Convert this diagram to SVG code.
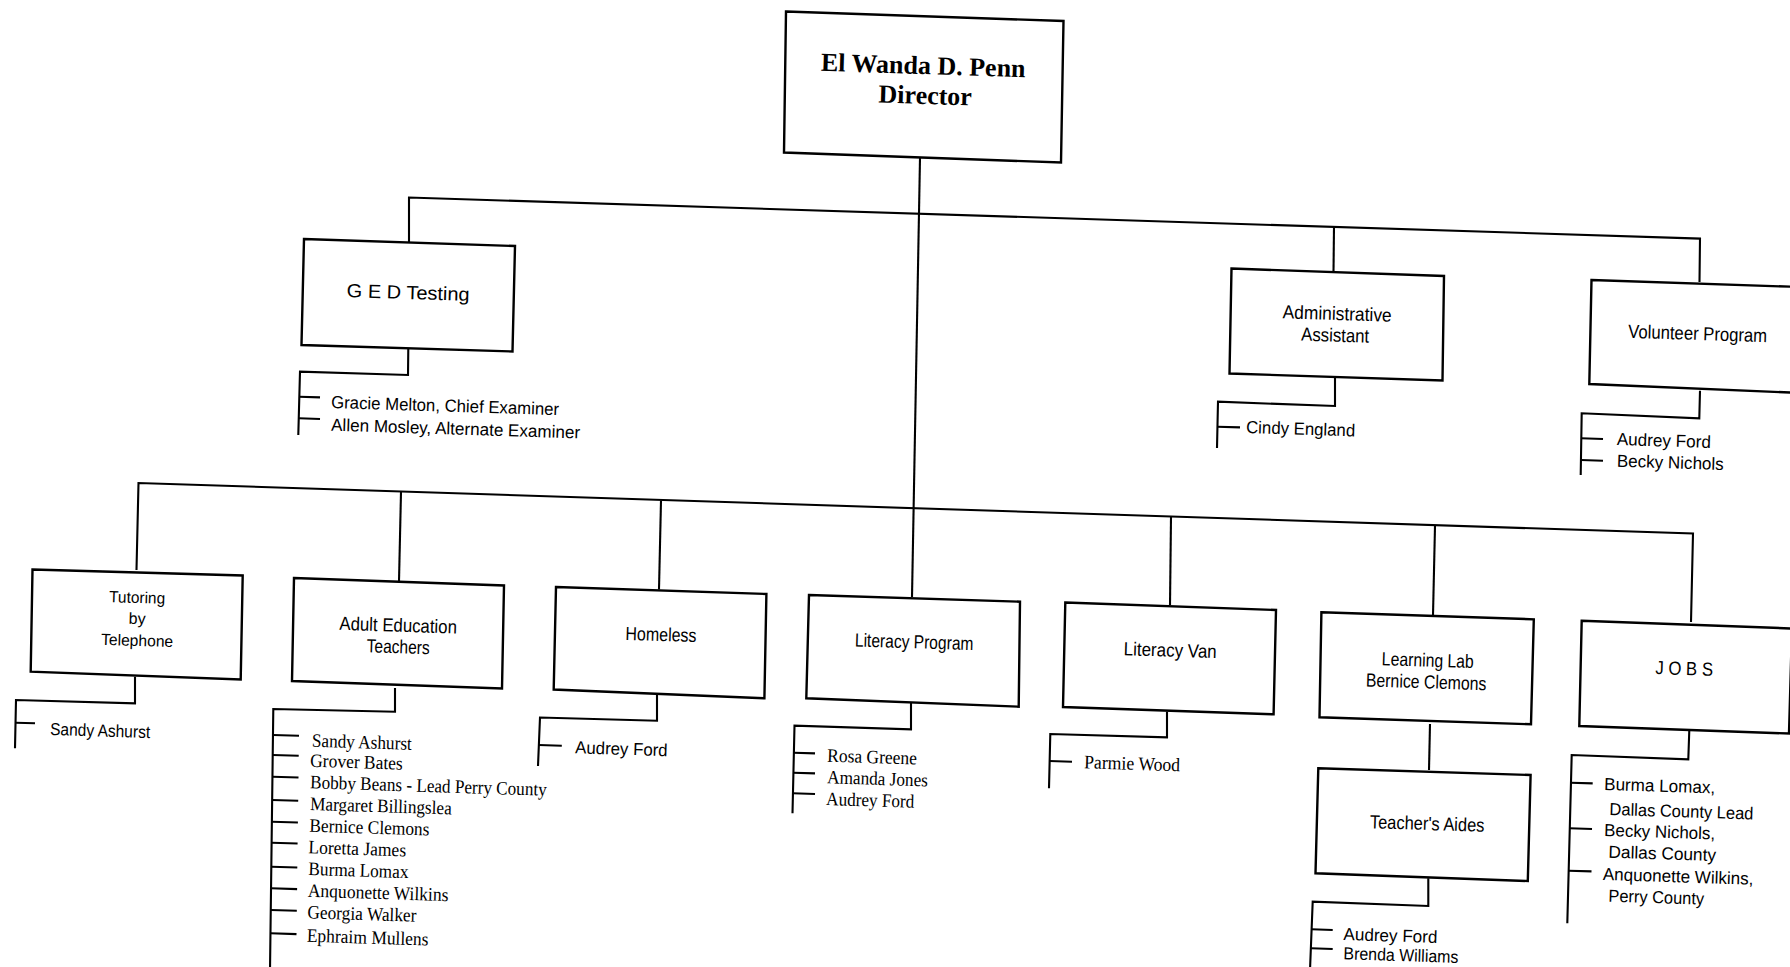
<svg xmlns="http://www.w3.org/2000/svg" width="1790" height="967" viewBox="0 0 1790 967">
<style>
.box{fill:#fff;stroke:#000;stroke-width:2.4;stroke-linejoin:miter}
.ln{fill:none;stroke:#000;stroke-width:2.1;stroke-linejoin:miter}
.dir{font-family:"Liberation Serif","Times New Roman",serif;font-weight:bold;font-size:26px;fill:#000;text-anchor:middle}
.lbl{font-family:"Liberation Sans",Arial,sans-serif;font-size:19px;fill:#000;text-anchor:middle}
.sm{font-size:16px}
.nm{font-family:"Liberation Sans",Arial,sans-serif;font-size:17.5px;fill:#000}
.sr{font-family:"Liberation Serif","Times New Roman",serif;font-size:19px;fill:#000}
</style>
<rect width="1790" height="967" fill="#fff"/>
<g id="connectors">
<polyline class="ln" points="920,158 912,597"/>
<polyline class="ln" points="409,242 409,197.5 1700,238.6 1699.5,282"/>
<polyline class="ln" points="1334,227 1333.5,272"/>
<polyline class="ln" points="136.5,570 138.5,483 1693,533.5 1691,622"/>
<polyline class="ln" points="401,492 399,581"/>
<polyline class="ln" points="661,500.5 659,589.5"/>
<polyline class="ln" points="1171,517 1170,605"/>
<polyline class="ln" points="1435,526 1433,615"/>
<polyline class="ln" points="1430,724 1429,770"/>
<polyline class="ln" points="408.3,348 408,375 300,371.7 298.3,435"/>
<polyline class="ln" points="299,396.7 320,397.4"/>
<polyline class="ln" points="299,418.3 320,419"/>
<polyline class="ln" points="1335,378 1335,406 1218,401.7 1217,448"/>
<polyline class="ln" points="1217,426.7 1240,427.4"/>
<polyline class="ln" points="1700,390.7 1699.3,418.3 1581.7,413.3 1580.7,475"/>
<polyline class="ln" points="1581,438.3 1603,439"/>
<polyline class="ln" points="1581,460 1603,460.7"/>
<polyline class="ln" points="135,676.7 135,703.3 16,700 15,748.3"/>
<polyline class="ln" points="15.5,722.7 35,723.3"/>
<polyline class="ln" points="395,688 395,711.7 273.3,709 270,970"/>
<polyline class="ln" points="273,735 299,735.8"/>
<polyline class="ln" points="272.7,755 298.7,755.8"/>
<polyline class="ln" points="272.5,776.7 298.5,777.5"/>
<polyline class="ln" points="272.2,800 298.2,800.8"/>
<polyline class="ln" points="271.9,821.7 297.9,822.5"/>
<polyline class="ln" points="271.6,842.7 297.6,843.5"/>
<polyline class="ln" points="271.3,866.7 297.3,867.5"/>
<polyline class="ln" points="271.1,888.3 297.1,889.1"/>
<polyline class="ln" points="270.8,910 296.8,910.8"/>
<polyline class="ln" points="270.5,933.3 296.5,934.1"/>
<polyline class="ln" points="657,695 657,720.7 540,717.5 538,766"/>
<polyline class="ln" points="538.8,745 561.8,745.7"/>
<polyline class="ln" points="911,703 911,729.3 794.5,725.7 792.5,813.3"/>
<polyline class="ln" points="793.5,752.7 815,753.4"/>
<polyline class="ln" points="793,772.7 815,773.4"/>
<polyline class="ln" points="792.8,793.3 815,794"/>
<polyline class="ln" points="1167,711.7 1167,737.3 1050.3,734 1049,788.3"/>
<polyline class="ln" points="1049.5,761 1072,761.7"/>
<polyline class="ln" points="1428.3,878.3 1428.3,906 1312.7,901.7 1310,970"/>
<polyline class="ln" points="1311.5,929.3 1332.7,930"/>
<polyline class="ln" points="1311,948.3 1332.7,949"/>
<polyline class="ln" points="1689.3,730 1688.3,759.3 1571.7,755 1567.3,923.3"/>
<polyline class="ln" points="1570.5,782.7 1592.7,783.4"/>
<polyline class="ln" points="1569.5,828.3 1592,829"/>
<polyline class="ln" points="1568.5,870.7 1591.5,871.4"/>
</g>
<g id="director">
<polygon class="box" points="786,11.5 1063.5,21 1061,162.5 784,152.5"/>
<text class="dir" x="923" y="74" transform="rotate(1.8 923 74)">El Wanda D. Penn</text>
<text class="dir" x="925" y="104" transform="rotate(1.8 925 104)">Director</text>
</g>
<g id="ged">
<polygon class="box" points="304,239 515,246 512.5,351.5 301.5,345"/>
<text class="lbl" x="408" y="299" font-size="20" textLength="123" lengthAdjust="spacingAndGlyphs" transform="rotate(1.8 408 299)">G E D Testing</text>
<text class="nm" x="331" y="408" textLength="228" lengthAdjust="spacingAndGlyphs" transform="rotate(1.8 331 408)">Gracie Melton, Chief Examiner</text>
<text class="nm" x="331" y="430.7" textLength="249" lengthAdjust="spacingAndGlyphs" transform="rotate(1.8 331 430.7)">Allen Mosley, Alternate Examiner</text>
</g>
<g id="admin">
<polygon class="box" points="1231.5,268.5 1444,276 1442.5,380.5 1229.5,373.5"/>
<text class="lbl" x="1337" y="320" textLength="109" lengthAdjust="spacingAndGlyphs" transform="rotate(1.8 1337 320)">Administrative</text>
<text class="lbl" x="1335" y="341.7" textLength="68" lengthAdjust="spacingAndGlyphs" transform="rotate(1.8 1335 341.7)">Assistant</text>
<text class="nm" x="1246" y="433" textLength="109" lengthAdjust="spacingAndGlyphs" transform="rotate(1.8 1246 433)">Cindy England</text>
</g>
<g id="volunteer">
<polygon class="box" points="1591.5,280 1800,287 1800,393 1589.3,384"/>
<text class="lbl" x="1697.5" y="340" textLength="139" lengthAdjust="spacingAndGlyphs" transform="rotate(1.8 1697.5 340)">Volunteer Program</text>
<text class="nm" x="1616.7" y="445" textLength="94" lengthAdjust="spacingAndGlyphs" transform="rotate(1.8 1616.7 445)">Audrey Ford</text>
<text class="nm" x="1616.7" y="466.7" textLength="107" lengthAdjust="spacingAndGlyphs" transform="rotate(1.8 1616.7 466.7)">Becky Nichols</text>
</g>
<g id="tutoring">
<polygon class="box" points="32.5,569.5 242.7,575.5 240.7,679.5 30.7,671.7"/>
<text class="lbl sm" x="137" y="603" textLength="56" lengthAdjust="spacingAndGlyphs" transform="rotate(1.8 137 603)">Tutoring</text>
<text class="lbl sm" x="137" y="624" transform="rotate(1.8 137 624)">by</text>
<text class="lbl sm" x="137" y="646" textLength="72" lengthAdjust="spacingAndGlyphs" transform="rotate(1.8 137 646)">Telephone</text>
<text class="nm" x="50" y="735" font-size="16" textLength="100" lengthAdjust="spacingAndGlyphs" transform="rotate(1.8 50 735)">Sandy Ashurst</text>
</g>
<g id="adult-ed">
<polygon class="box" points="294,578 504,585.5 502,688.4 292,681"/>
<text class="lbl" x="398" y="631.7" textLength="117.5" lengthAdjust="spacingAndGlyphs" transform="rotate(1.8 398 631.7)">Adult Education</text>
<text class="lbl" x="398" y="653.3" textLength="63" lengthAdjust="spacingAndGlyphs" transform="rotate(1.8 398 653.3)">Teachers</text>
<text class="sr" x="311.7" y="746.7" textLength="100" lengthAdjust="spacingAndGlyphs" transform="rotate(1.8 311.7 746.7)">Sandy Ashurst</text>
<text class="sr" x="310" y="766.7" textLength="92.7" lengthAdjust="spacingAndGlyphs" transform="rotate(1.8 310 766.7)">Grover Bates</text>
<text class="sr" x="310" y="788.3" textLength="236.7" lengthAdjust="spacingAndGlyphs" transform="rotate(1.8 310 788.3)">Bobby Beans - Lead Perry County</text>
<text class="sr" x="310" y="810" textLength="141.7" lengthAdjust="spacingAndGlyphs" transform="rotate(1.8 310 810)">Margaret Billingslea</text>
<text class="sr" x="309.3" y="831.7" textLength="120" lengthAdjust="spacingAndGlyphs" transform="rotate(1.8 309.3 831.7)">Bernice Clemons</text>
<text class="sr" x="308.3" y="853.3" textLength="97.7" lengthAdjust="spacingAndGlyphs" transform="rotate(1.8 308.3 853.3)">Loretta James</text>
<text class="sr" x="308.3" y="875" textLength="100" lengthAdjust="spacingAndGlyphs" transform="rotate(1.8 308.3 875)">Burma Lomax</text>
<text class="sr" x="307.7" y="896.7" textLength="140.7" lengthAdjust="spacingAndGlyphs" transform="rotate(1.8 307.7 896.7)">Anquonette Wilkins</text>
<text class="sr" x="307.3" y="918.3" textLength="109" lengthAdjust="spacingAndGlyphs" transform="rotate(1.8 307.3 918.3)">Georgia Walker</text>
<text class="sr" x="306.7" y="941.7" textLength="121.7" lengthAdjust="spacingAndGlyphs" transform="rotate(1.8 306.7 941.7)">Ephraim Mullens</text>
</g>
<g id="homeless">
<polygon class="box" points="556,587 766.4,594 764.4,698.3 553.7,689.5"/>
<text class="lbl" x="660.8" y="641" textLength="71" lengthAdjust="spacingAndGlyphs" transform="rotate(1.8 660.8 641)">Homeless</text>
<text class="nm" x="575" y="753.3" textLength="92.5" lengthAdjust="spacingAndGlyphs" transform="rotate(1.8 575 753.3)">Audrey Ford</text>
</g>
<g id="literacy-program">
<polygon class="box" points="809,595 1020,601.7 1018.7,706.7 806.3,698.3"/>
<text class="lbl" x="914" y="648.3" textLength="118.6" lengthAdjust="spacingAndGlyphs" transform="rotate(1.8 914 648.3)">Literacy Program</text>
<text class="sr" x="827" y="761.7" textLength="89.8" lengthAdjust="spacingAndGlyphs" transform="rotate(1.8 827 761.7)">Rosa Greene</text>
<text class="sr" x="827" y="783.3" textLength="100.8" lengthAdjust="spacingAndGlyphs" transform="rotate(1.8 827 783.3)">Amanda Jones</text>
<text class="sr" x="826" y="805" textLength="88.2" lengthAdjust="spacingAndGlyphs" transform="rotate(1.8 826 805)">Audrey Ford</text>
</g>
<g id="literacy-van">
<polygon class="box" points="1065.3,602.5 1276,610 1273.6,714.3 1063,707"/>
<text class="lbl" x="1170" y="656.7" textLength="93" lengthAdjust="spacingAndGlyphs" transform="rotate(1.8 1170 656.7)">Literacy Van</text>
<text class="sr" x="1084" y="768.3" textLength="96" lengthAdjust="spacingAndGlyphs" transform="rotate(1.8 1084 768.3)">Parmie Wood</text>
</g>
<g id="learning-lab">
<polygon class="box" points="1321.4,612.3 1533.8,619.3 1531,724.3 1319.5,717.3"/>
<text class="lbl" x="1427.6" y="666.7" textLength="92" lengthAdjust="spacingAndGlyphs" transform="rotate(1.8 1427.6 666.7)">Learning Lab</text>
<text class="lbl" x="1426" y="688.3" textLength="120.6" lengthAdjust="spacingAndGlyphs" transform="rotate(1.8 1426 688.3)">Bernice Clemons</text>
</g>
<g id="teachers-aides">
<polygon class="box" points="1318.3,768.3 1530.6,775 1527.8,881 1315.5,873.3"/>
<text class="lbl" x="1427" y="830" textLength="114.6" lengthAdjust="spacingAndGlyphs" transform="rotate(1.8 1427 830)">Teacher's Aides</text>
<text class="nm" x="1343.3" y="940" textLength="94" lengthAdjust="spacingAndGlyphs" transform="rotate(1.8 1343.3 940)">Audrey Ford</text>
<text class="nm" x="1343.3" y="959.3" textLength="115" lengthAdjust="spacingAndGlyphs" transform="rotate(1.8 1343.3 959.3)">Brenda Williams</text>
</g>
<g id="jobs">
<polygon class="box" points="1581.7,620.7 1792,628.5 1789,733.5 1579.3,726"/>
<text class="lbl" x="1684" y="675" textLength="57.7" lengthAdjust="spacingAndGlyphs" transform="rotate(1.8 1684 675)">J O B S</text>
<text class="nm" x="1604" y="790" textLength="111" lengthAdjust="spacingAndGlyphs" transform="rotate(1.8 1604 790)">Burma Lomax,</text>
<text class="nm" x="1609.3" y="815" textLength="144" lengthAdjust="spacingAndGlyphs" transform="rotate(1.8 1609.3 815)">Dallas County Lead</text>
<text class="nm" x="1604" y="836" textLength="111" lengthAdjust="spacingAndGlyphs" transform="rotate(1.8 1604 836)">Becky Nichols,</text>
<text class="nm" x="1608.3" y="857.7" textLength="107.7" lengthAdjust="spacingAndGlyphs" transform="rotate(1.8 1608.3 857.7)">Dallas County</text>
<text class="nm" x="1602.7" y="880" textLength="150.7" lengthAdjust="spacingAndGlyphs" transform="rotate(1.8 1602.7 880)">Anquonette Wilkins,</text>
<text class="nm" x="1608.3" y="901.7" textLength="95.7" lengthAdjust="spacingAndGlyphs" transform="rotate(1.8 1608.3 901.7)">Perry County</text>
</g>
</svg>
